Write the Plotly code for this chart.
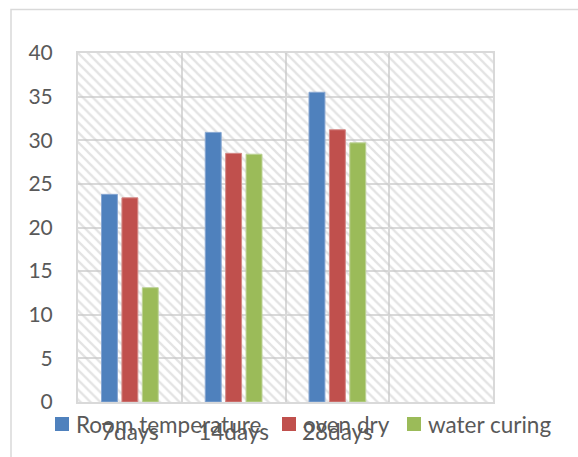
import plotly.graph_objects as go

categories = ["7days", "14days", "28days"]
room_temperature = [23.8, 30.9, 35.5]
oven_dry = [23.4, 28.5, 31.2]
water_curing = [13.1, 28.4, 29.7]
y_ticks = [0, 5, 10, 15, 20, 25, 30, 35, 40]
series_names = ["Room temperature", "oven dry", "water curing"]
series_colors = ["#4f81bd", "#c0504d", "#9bbb59"]
edge_colors = ["#86a6d2", "#d48986", "#bcd295"]

FONT = "Lato"
GRID = "#d9d9d9"
TXT = "#595959"

W, H = 578, 457
L, R, T, B = 78, 578 - 493, 53, 457 - 402
pw, ph = W - L - R, H - T - B


def px(xp):
    return (xp - L) / pw


def py(yp):
    return (402 - yp) / ph


fig = go.Figure()

# hatched plot-area background (main subplot)
fig.add_trace(go.Bar(
    x=[1.5], y=[40], width=[4], xaxis="x", yaxis="y",
    marker=dict(color="rgba(0,0,0,0)", line=dict(width=0),
                pattern=dict(shape="\\", fgcolor="#c8c8c8", bgcolor="rgba(0,0,0,0)",
                             size=7, solidity=0.33, fillmode="overlay")),
    showlegend=False, hoverinfo="skip"))

xpos = list(range(len(categories)))
for name, vals, col, edge in zip(series_names,
                                 [room_temperature, oven_dry, water_curing],
                                 series_colors, edge_colors):
    fig.add_trace(go.Bar(x=xpos, y=vals, name=name, xaxis="x2", yaxis="y",
                         showlegend=False,
                         marker=dict(color=col, line=dict(color=edge, width=1))))

# legend drawn as swatches + text, matching the reference's placement
legend_x = [55, 282, 407]
shapes = [dict(type="rect", xref="paper", yref="paper",
               x0=px(11), x1=px(590), y0=py(470), y1=py(9.5),
               line=dict(color=GRID, width=1.5), layer="below")]
annotations = []
for lx, name, col in zip(legend_x, series_names, series_colors):
    shapes.append(dict(type="rect", xref="paper", yref="paper",
                       x0=px(lx), x1=px(lx + 14), y0=py(431), y1=py(417),
                       fillcolor=col, line=dict(width=0), layer="above"))
    annotations.append(dict(text=name, xref="paper", yref="paper",
                            x=px(lx + 19), y=py(424), xanchor="left", yanchor="middle",
                            showarrow=False, font=dict(size=22.5, color=TXT)))

fig.update_layout(
    width=W, height=H,
    margin=dict(l=L, r=R, t=T, b=B, autoexpand=False),
    paper_bgcolor="white", plot_bgcolor="white",
    barmode="group", bargap=0.41, bargroupgap=0.22,
    font=dict(family=FONT, size=22, color=TXT),
    showlegend=False,
    xaxis=dict(range=[-0.5, 3.5], tickvals=[0.5, 1.5, 2.5], showticklabels=False,
               showgrid=True, gridcolor=GRID, gridwidth=2, zeroline=False,
               showline=True, mirror=True, linecolor=GRID, linewidth=2, ticks=""),
    xaxis2=dict(range=[-0.5, 3.5], overlaying="x", anchor="y", side="bottom",
                tickvals=xpos, ticktext=categories, showgrid=False, zeroline=False,
                ticks="", ticklabelstandoff=14, tickfont=dict(size=22.5, color=TXT)),
    yaxis=dict(range=[0, 40], tickvals=y_ticks, showgrid=True, gridcolor=GRID, gridwidth=2,
               zeroline=False, showline=True, mirror=True, linecolor=GRID, linewidth=2,
               ticks="", ticklabelstandoff=19, tickfont=dict(size=21, color=TXT)),
    shapes=shapes,
    annotations=annotations,
)

fig.write_html("out.html",
               config={"displayModeBar": False},
               post_script="document.body.style.margin='0';document.body.style.overflow='hidden';")
